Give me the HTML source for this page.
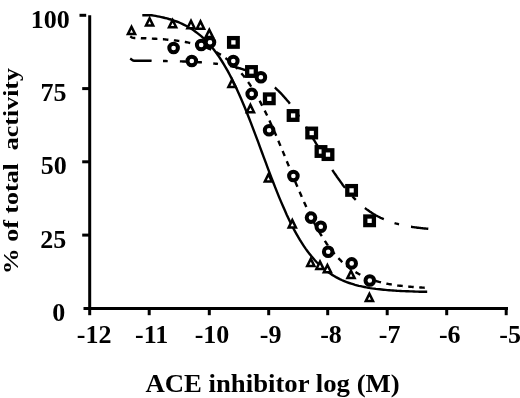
<!DOCTYPE html>
<html><head><meta charset="utf-8"><title>ACE inhibitor</title>
<style>
html,body{margin:0;padding:0;background:#fff;overflow:hidden;}
svg{display:block;}
text{font-family:"Liberation Serif",serif;font-weight:bold;fill:#000;}
</style></head><body>
<svg width="520" height="398" viewBox="0 0 520 398">
<rect width="520" height="398" fill="#fff"/>

<g stroke="#000" stroke-width="3" fill="none" stroke-linecap="butt">
<path d="M89.7,15.2 V309.8"/>
<path d="M83.5,308.4 H508.0"/>
<path d="M82.2,235.1 H89.7"/>
<path d="M82.2,161.8 H89.7"/>
<path d="M82.2,88.6 H89.7"/>
<path d="M79.5,15.3 H86.2"/>
<path d="M89.7,308.4 V315.2"/>
<path d="M149.2,308.4 V315.2"/>
<path d="M209.3,308.4 V315.2"/>
<path d="M268.7,308.4 V315.2"/>
<path d="M327.7,308.4 V315.2"/>
<path d="M387.2,308.4 V315.2"/>
<path d="M446.7,308.4 V315.2"/>
<path d="M506.2,308.4 V315.2"/>
</g>
<text x="65.2" y="321.2" font-size="26" text-anchor="end">0</text>
<text x="66.3" y="247.7" font-size="26" text-anchor="end">25</text>
<text x="66.8" y="174.0" font-size="26" text-anchor="end">50</text>
<text x="66.4" y="100.8" font-size="26" text-anchor="end">75</text>
<text x="69.7" y="28.2" font-size="26" text-anchor="end">100</text>
<text x="94.2" y="343.0" font-size="26" text-anchor="middle">-12</text>
<text x="151.7" y="343.0" font-size="26" text-anchor="middle">-11</text>
<text x="212.0" y="343.0" font-size="26" text-anchor="middle">-10</text>
<text x="270.7" y="343.0" font-size="26" text-anchor="middle">-9</text>
<text x="331.0" y="343.0" font-size="26" text-anchor="middle">-8</text>
<text x="389.7" y="343.0" font-size="26" text-anchor="middle">-7</text>
<text x="449.8" y="343.0" font-size="26" text-anchor="middle">-6</text>
<text x="510.2" y="343.0" font-size="26" text-anchor="middle">-5</text>
<text x="145.4" y="392.1" font-size="25.8" textLength="254.3" lengthAdjust="spacingAndGlyphs">ACE inhibitor log (M)</text>
<text transform="translate(17.8,274.2) rotate(-90)" font-size="20.5" textLength="206.2" lengthAdjust="spacingAndGlyphs" xml:space="preserve">% of total  activity</text>
<g stroke="#000" stroke-width="2.4" fill="none">
<path d="M142.3,15.3 L144.2,15.3 L146.1,15.3 L148.0,15.3 L149.9,15.3 L151.8,15.3 L153.7,15.6 L155.6,15.9 L157.5,16.3 L159.4,16.7 L161.3,17.1 L163.2,17.5 L165.1,18.0 L167.0,18.4 L168.9,19.0 L170.8,19.5 L172.7,20.1 L174.6,20.8 L176.5,21.5 L178.4,22.2 L180.3,23.0 L182.2,23.9 L184.1,24.8 L186.0,25.7 L187.9,26.8 L189.8,27.9 L191.7,29.1 L193.6,30.3 L195.5,31.7 L197.4,33.1 L199.3,34.6 L201.2,36.2 L203.1,37.9 L205.0,39.7 L206.9,41.7 L208.8,43.7 L210.7,45.9 L212.6,48.1 L214.5,50.5 L216.4,53.1 L218.3,55.7 L220.2,58.5 L222.1,61.5 L224.0,64.6 L225.9,67.8 L227.8,71.2 L229.7,74.7 L231.6,78.4 L233.5,82.2 L235.4,86.1 L237.3,90.2 L239.2,94.4 L241.1,98.8 L243.0,103.2 L244.9,107.8 L246.8,112.5 L248.7,117.3 L250.6,122.1 L252.5,127.1 L254.4,132.1 L256.3,137.1 L258.2,142.2 L260.1,147.4 L262.0,152.5 L263.9,157.6 L265.8,162.7 L267.7,167.8 L269.6,172.9 L271.5,177.9 L273.4,182.8 L275.3,187.6 L277.2,192.4 L279.1,197.1 L281.0,201.6 L282.9,206.0 L284.8,210.3 L286.6,214.5 L288.5,218.6 L290.4,222.5 L292.3,226.2 L294.2,229.9 L296.1,233.3 L298.0,236.7 L299.9,239.9 L301.8,242.9 L303.7,245.8 L305.6,248.6 L307.5,251.2 L309.4,253.7 L311.3,256.1 L313.2,258.3 L315.1,260.5 L317.0,262.5 L318.9,264.4 L320.8,266.1 L322.7,267.8 L324.6,269.4 L326.5,270.9 L328.4,272.3 L330.3,273.6 L332.2,274.9 L334.1,276.0 L336.0,277.1 L337.9,278.1 L339.8,279.1 L341.7,280.0 L343.6,280.8 L345.5,281.6 L347.4,282.3 L349.3,283.0 L351.2,283.6 L353.1,284.2 L355.0,284.8 L356.9,285.3 L358.8,285.8 L360.7,286.2 L362.6,286.6 L364.5,287.0 L366.4,287.4 L368.3,287.7 L370.2,288.1 L372.1,288.4 L374.0,288.6 L375.9,288.9 L377.8,289.1 L379.7,289.3 L381.6,289.5 L383.5,289.7 L385.4,289.9 L387.3,290.1 L389.2,290.2 L391.1,290.4 L393.0,290.5 L394.9,290.6 L396.8,290.8 L398.7,290.9 L400.6,291.0 L402.5,291.1 L404.4,291.1 L406.3,291.2 L408.2,291.3 L410.1,291.4 L412.0,291.4 L413.9,291.5 L415.8,291.6 L417.7,291.6 L419.6,291.7 L421.5,291.7 L423.4,291.7 L425.3,291.8 L427.2,291.8"/>
<path d="M129.2,35.6 L130.2,36.3 L131.2,37.0 L132.2,37.7 L133.2,37.9 L134.1,38.0 L135.1,38.0 L136.1,38.0 L137.1,38.0 L138.1,38.1 L139.1,38.1 L140.1,38.1 L141.1,38.2 L142.0,38.2 L143.0,38.2 L144.0,38.3 L145.0,38.3 L146.0,38.3 L147.0,38.4 L148.0,38.4 L149.0,38.5 L149.9,38.5 L150.9,38.5 L151.9,38.6 L152.9,38.6 L153.9,38.7 L154.9,38.8 L155.9,38.8 L156.9,38.9 L157.8,38.9 L158.8,39.0 L159.8,39.1 L160.8,39.1 L161.8,39.2 L162.8,39.3 L163.8,39.3 L164.8,39.4 L165.7,39.5 L166.7,39.6 L167.7,39.7 L168.7,39.8 L169.7,39.9 L170.7,40.0 L171.7,40.1 L172.7,40.2 L173.6,40.3 L174.6,40.4 L175.6,40.5 L176.6,40.6 L177.6,40.8 L178.6,40.9 L179.6,41.0 L180.6,41.2 L181.5,41.3 L182.5,41.5 L183.5,41.7 L184.5,41.8 L185.5,42.0 L186.5,42.2 L187.5,42.4 L188.5,42.6 L189.4,42.8 L190.4,43.0 L191.4,43.2 L192.4,43.4 L193.4,43.6 L194.4,43.9 L195.4,44.1 L196.4,44.4 L197.3,44.7 L198.3,44.9 L199.3,45.2 L200.3,45.5 L201.3,45.8 L202.3,46.2 L203.3,46.5 L204.3,46.8 L205.3,47.2 L206.2,47.6 L207.2,48.0 L208.2,48.4 L209.2,48.8 L210.2,49.2 L211.2,49.6 L212.2,50.1 L213.2,50.6 L214.1,51.1 L215.1,51.6 L216.1,52.1 L217.1,52.6 L218.1,53.2 L219.1,53.8 L220.1,54.4 L221.1,55.0 L222.0,55.6 L223.0,56.3 L224.0,57.0 L225.0,57.7 L226.0,58.4 L227.0,59.2 L228.0,59.9 L229.0,60.7 L229.9,61.6 L230.9,62.4 L231.9,63.3 L232.9,64.2 L233.9,65.1 L234.9,66.1 L235.9,67.1 L236.9,68.1 L237.8,69.2 L238.8,70.3 L239.8,71.4 L240.8,72.5 L241.8,73.7 L242.8,74.9 L243.8,76.1 L244.8,77.4 L245.7,78.7 L246.7,80.1 L247.7,81.4 L248.7,82.9 L249.7,84.3 L250.7,85.8 L251.7,87.3 L252.7,88.9 L253.6,90.5 L254.6,92.1 L255.6,93.7 L256.6,95.4 L257.6,97.2 L258.6,98.9 L259.6,100.7 L260.6,102.6 L261.5,104.4 L262.5,106.3 L263.5,108.3 L264.5,110.2 L265.5,112.2 L266.5,114.3 L267.5,116.3 L268.5,118.4 L269.4,120.5 L270.4,122.7 L271.4,124.9 L272.4,127.1 L273.4,129.3 L274.4,131.5 L275.4,133.8 L276.4,136.1 L277.4,138.4 L278.3,140.7 L279.3,143.1 L280.3,145.4 L281.3,147.8 L282.3,150.2 L283.3,152.6 L284.3,155.0 L285.3,157.4 L286.2,159.8 L287.2,162.2 L288.2,164.6 L289.2,167.0 L290.2,169.4 L291.2,171.8 L292.2,174.2 L293.2,176.6 L294.1,179.0 L295.1,181.3 L296.1,183.7 L297.1,186.0 L298.1,188.4 L299.1,190.7 L300.1,192.9 L301.1,195.2 L302.0,197.5 L303.0,199.7 L304.0,201.9 L305.0,204.0 L306.0,206.2 L307.0,208.3 L308.0,210.4 L309.0,212.4 L309.9,214.5 L310.9,216.4 L311.9,218.4 L312.9,220.3 L313.9,222.2 L314.9,224.1 L315.9,225.9 L316.9,227.7 L317.8,229.5 L318.8,231.2 L319.8,232.9 L320.8,234.5 L321.8,236.1 L322.8,237.7 L323.8,239.3 L324.8,240.8 L325.7,242.2 L326.7,243.7 L327.7,245.1 L328.7,246.5 L329.7,247.8 L330.7,249.1 L331.7,250.4 L332.7,251.6 L333.6,252.8 L334.6,254.0 L335.6,255.1 L336.6,256.2 L337.6,257.3 L338.6,258.3 L339.6,259.3 L340.6,260.3 L341.5,261.3 L342.5,262.2 L343.5,263.1 L344.5,264.0 L345.5,264.8 L346.5,265.7 L347.5,266.5 L348.5,267.2 L349.4,268.0 L350.4,268.7 L351.4,269.4 L352.4,270.1 L353.4,270.7 L354.4,271.4 L355.4,272.0 L356.4,272.6 L357.4,273.1 L358.3,273.7 L359.3,274.2 L360.3,274.8 L361.3,275.3 L362.3,275.8 L363.3,276.2 L364.3,276.7 L365.3,277.1 L366.2,277.5 L367.2,277.9 L368.2,278.3 L369.2,278.7 L370.2,279.1 L371.2,279.4 L372.2,279.8 L373.2,280.1 L374.1,280.4 L375.1,280.7 L376.1,281.0 L377.1,281.3 L378.1,281.6 L379.1,281.9 L380.1,282.1 L381.1,282.4 L382.0,282.6 L383.0,282.8 L384.0,283.1 L385.0,283.3 L386.0,283.5 L387.0,283.7 L388.0,283.9 L389.0,284.1 L389.9,284.2 L390.9,284.4 L391.9,284.6 L392.9,284.7 L393.9,284.9 L394.9,285.0 L395.9,285.2 L396.9,285.3 L397.8,285.5 L398.8,285.6 L399.8,285.7 L400.8,285.8 L401.8,285.9 L402.8,286.0 L403.8,286.2 L404.8,286.3 L405.7,286.4 L406.7,286.5 L407.7,286.5 L408.7,286.6 L409.7,286.7 L410.7,286.8 L411.7,286.9 L412.7,287.0 L413.6,287.0 L414.6,287.1 L415.6,287.2 L416.6,287.2 L417.6,287.3 L418.6,287.3 L419.6,287.4 L420.6,287.5 L421.5,287.5 L422.5,287.6 L423.5,287.6 L424.5,287.7 L425.5,287.7" stroke-dasharray="5.52 5.525" stroke-dashoffset="-1.3"/>
<path d="M130.2,58.5 L131.2,59.2 L132.2,59.9 L133.2,60.6 L134.2,60.7 L135.2,60.7 L136.2,60.7 L137.2,60.7 L138.1,60.8 L139.1,60.8 L140.1,60.8 L141.1,60.8 L142.1,60.8 L143.1,60.8 L144.1,60.8 L145.1,60.8 L146.1,60.8 L147.1,60.8 L148.1,60.8 L149.1,60.8 L150.1,60.8 L151.1,60.8 L152.1,60.9 L153.1,60.9 L154.0,60.9 L155.0,60.9 L156.0,60.9 L157.0,60.9 L158.0,60.9 L159.0,60.9 L160.0,61.0 L161.0,61.0 L162.0,61.0 L163.0,61.0 L164.0,61.0 L165.0,61.0 L166.0,61.0 L167.0,61.1 L168.0,61.1 L169.0,61.1 L169.9,61.1 L170.9,61.1 L171.9,61.2 L172.9,61.2 L173.9,61.2 L174.9,61.2 L175.9,61.3 L176.9,61.3 L177.9,61.3 L178.9,61.3 L179.9,61.4 L180.9,61.4 L181.9,61.4 L182.9,61.5 L183.9,61.5 L184.9,61.5 L185.8,61.6 L186.8,61.6 L187.8,61.7 L188.8,61.7 L189.8,61.7 L190.8,61.8 L191.8,61.8 L192.8,61.9 L193.8,61.9 L194.8,62.0 L195.8,62.0 L196.8,62.1 L197.8,62.1 L198.8,62.2 L199.8,62.3 L200.8,62.3 L201.7,62.4 L202.7,62.5 L203.7,62.5 L204.7,62.6 L205.7,62.7 L206.7,62.8 L207.7,62.9 L208.7,63.0 L209.7,63.1 L210.7,63.1 L211.7,63.2 L212.7,63.4 L213.7,63.5 L214.7,63.6 L215.7,63.7 L216.6,63.8 L217.6,63.9 L218.6,64.1 L219.6,64.2 L220.6,64.3 L221.6,64.5 L222.6,64.6 L223.6,64.8 L224.6,65.0 L225.6,65.1 L226.6,65.3 L227.6,65.5 L228.6,65.7 L229.6,65.9 L230.6,66.1 L231.6,66.3 L232.5,66.5 L233.5,66.7 L234.5,66.9 L235.5,67.2 L236.5,67.4 L237.5,67.7 L238.5,68.0 L239.5,68.3 L240.5,68.5 L241.5,68.8 L242.5,69.2 L243.5,69.5 L244.5,69.8 L245.5,70.2 L246.5,70.5 L247.5,70.9 L248.4,71.3 L249.4,71.7 L250.4,72.1 L251.4,72.5 L252.4,72.9 L253.4,73.4 L254.4,73.9 L255.4,74.3 L256.4,74.8 L257.4,75.4 L258.4,75.9 L259.4,76.4 L260.4,77.0 L261.4,77.6 L262.4,78.2 L263.4,78.8 L264.3,79.5 L265.3,80.1 L266.3,80.8 L267.3,81.5 L268.3,82.2 L269.3,83.0 L270.3,83.8 L271.3,84.5 L272.3,85.4 L273.3,86.2 L274.3,87.1 L275.3,87.9 L276.3,88.8 L277.3,89.8 L278.3,90.7 L279.2,91.7 L280.2,92.7 L281.2,93.7 L282.2,94.8 L283.2,95.9 L284.2,97.0 L285.2,98.1 L286.2,99.2 L287.2,100.4 L288.2,101.6 L289.2,102.8 L290.2,104.1 L291.2,105.4 L292.2,106.7 L293.2,108.0 L294.2,109.3 L295.1,110.7 L296.1,112.1 L297.1,113.5 L298.1,114.9 L299.1,116.4 L300.1,117.8 L301.1,119.3 L302.1,120.8 L303.1,122.4 L304.1,123.9 L305.1,125.5 L306.1,127.0 L307.1,128.6 L308.1,130.2 L309.1,131.8 L310.1,133.5 L311.0,135.1 L312.0,136.7 L313.0,138.4 L314.0,140.0 L315.0,141.7 L316.0,143.3 L317.0,145.0 L318.0,146.6 L319.0,148.3 L320.0,150.0 L321.0,151.6 L322.0,153.3 L323.0,154.9 L324.0,156.5 L325.0,158.2 L326.0,159.8 L326.9,161.4 L327.9,163.0 L328.9,164.6 L329.9,166.2 L330.9,167.7 L331.9,169.3 L332.9,170.8 L333.9,172.3 L334.9,173.8 L335.9,175.2 L336.9,176.7 L337.9,178.1 L338.9,179.5 L339.9,180.9 L340.9,182.3 L341.9,183.6 L342.8,185.0 L343.8,186.3 L344.8,187.5 L345.8,188.8 L346.8,190.0 L347.8,191.2 L348.8,192.4 L349.8,193.5 L350.8,194.7 L351.8,195.8 L352.8,196.8 L353.8,197.9 L354.8,198.9 L355.8,199.9 L356.8,200.9 L357.7,201.8 L358.7,202.8 L359.7,203.7 L360.7,204.6 L361.7,205.4 L362.7,206.3 L363.7,207.1 L364.7,207.9 L365.7,208.6 L366.7,209.4 L367.7,210.1 L368.7,210.8 L369.7,211.5 L370.7,212.1 L371.7,212.8 L372.7,213.4 L373.6,214.0 L374.6,214.6 L375.6,215.2 L376.6,215.7 L377.6,216.3 L378.6,216.8 L379.6,217.3 L380.6,217.8 L381.6,218.2 L382.6,218.7 L383.6,219.1 L384.6,219.5 L385.6,219.9 L386.6,220.3 L387.6,220.7 L388.6,221.1 L389.5,221.5 L390.5,221.8 L391.5,222.1 L392.5,222.5 L393.5,222.8 L394.5,223.1 L395.5,223.4 L396.5,223.6 L397.5,223.9 L398.5,224.2 L399.5,224.4 L400.5,224.7 L401.5,224.9 L402.5,225.1 L403.5,225.3 L404.5,225.5 L405.4,225.7 L406.4,225.9 L407.4,226.1 L408.4,226.3 L409.4,226.5 L410.4,226.7 L411.4,226.8 L412.4,227.0 L413.4,227.1 L414.4,227.3 L415.4,227.4 L416.4,227.5 L417.4,227.7 L418.4,227.8 L419.4,227.9 L420.4,228.0 L421.3,228.1 L422.3,228.2 L423.3,228.4 L424.3,228.5 L425.3,228.5 L426.3,228.6 L427.3,228.7 L428.3,228.8" stroke-dasharray="22.1 11.4 4.7 12.2"/>
</g>
<g stroke="#000" fill="#fff" stroke-width="2.5">
<path d="M131.5,26.8 L135.1,34.1 H127.9 Z" stroke-linejoin="miter"/>
<path d="M149.6,18.3 L153.2,25.6 H146.0 Z" stroke-linejoin="miter"/>
<path d="M172.6,20.0 L176.2,27.3 H169.0 Z" stroke-linejoin="miter"/>
<path d="M191.0,20.9 L194.6,28.2 H187.4 Z" stroke-linejoin="miter"/>
<path d="M200.5,21.4 L204.1,28.7 H196.9 Z" stroke-linejoin="miter"/>
<path d="M209.3,29.8 L212.9,37.1 H205.7 Z" stroke-linejoin="miter"/>
<path d="M232.0,79.8 L235.6,87.1 H228.4 Z" stroke-linejoin="miter"/>
<path d="M250.4,104.9 L254.0,112.2 H246.8 Z" stroke-linejoin="miter"/>
<path d="M268.4,174.3 L272.0,181.6 H264.8 Z" stroke-linejoin="miter"/>
<path d="M292.3,220.1 L295.9,227.4 H288.7 Z" stroke-linejoin="miter"/>
<path d="M310.8,258.8 L314.4,266.1 H307.2 Z" stroke-linejoin="miter"/>
<path d="M320.0,261.6 L323.6,268.9 H316.4 Z" stroke-linejoin="miter"/>
<path d="M327.4,265.0 L331.0,272.3 H323.8 Z" stroke-linejoin="miter"/>
<path d="M351.0,270.8 L354.6,278.1 H347.4 Z" stroke-linejoin="miter"/>
<path d="M369.4,293.8 L373.0,301.1 H365.8 Z" stroke-linejoin="miter"/>
</g>
<g stroke="#000" fill="#fff" stroke-width="4.0">
<circle cx="173.6" cy="48.0" r="4.3"/>
<circle cx="191.8" cy="61.0" r="4.3"/>
<circle cx="201.2" cy="45.0" r="4.3"/>
<circle cx="210.0" cy="42.3" r="4.3"/>
<circle cx="233.3" cy="61.0" r="4.3"/>
<circle cx="260.9" cy="77.3" r="4.3"/>
<circle cx="251.7" cy="93.9" r="4.3"/>
<circle cx="269.1" cy="130.3" r="4.3"/>
<circle cx="293.4" cy="176.0" r="4.3"/>
<circle cx="311.0" cy="217.6" r="4.3"/>
<circle cx="320.8" cy="226.8" r="4.3"/>
<circle cx="328.2" cy="251.8" r="4.3"/>
<circle cx="351.7" cy="263.4" r="4.3"/>
<circle cx="369.8" cy="280.5" r="4.3"/>
</g>
<g stroke="#000" fill="#fff" stroke-width="4.3">
<rect x="229.1" y="38.1" width="8.6" height="8.6"/>
<rect x="247.2" y="67.2" width="8.6" height="8.6"/>
<rect x="265.0" y="94.5" width="8.6" height="8.6"/>
<rect x="288.8" y="111.2" width="8.6" height="8.6"/>
<rect x="307.4" y="128.7" width="8.6" height="8.6"/>
<rect x="316.7" y="147.2" width="8.6" height="8.6"/>
<rect x="323.7" y="150.3" width="8.6" height="8.6"/>
<rect x="347.3" y="186.1" width="8.6" height="8.6"/>
<rect x="365.3" y="216.5" width="8.6" height="8.6"/>
</g>
</svg></body></html>
